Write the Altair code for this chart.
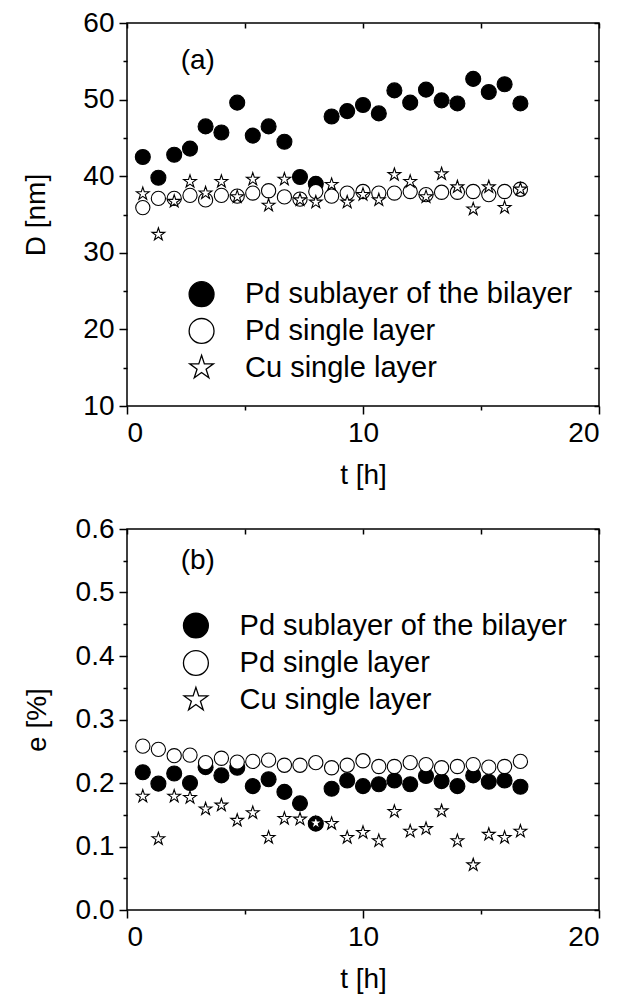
import altair as alt
import pandas as pd

FONT = "Liberation Sans"

t_hours = [0.67, 1.33, 2.0, 2.67, 3.33, 4.0, 4.67, 5.33, 6.0, 6.67, 7.33, 8.0, 8.67,
           9.33, 10.0, 10.67, 11.33, 12.0, 12.67, 13.33, 14.0, 14.67, 15.33, 16.0, 16.67]

series_names = ["Pd sublayer of the bilayer", "Pd single layer", "Cu single layer"]

# Panel (a): D [nm]
D_pd_bilayer = [42.5, 39.8, 42.8, 43.6, 46.5, 45.7, 49.6, 45.3, 46.5, 44.5, 39.9, 39.0, 47.8,
                48.5, 49.3, 48.2, 51.2, 49.6, 51.3, 49.9, 49.5, 52.7, 51.0, 52.0, 49.5]
D_pd_single = [35.9, 37.1, 37.1, 37.5, 36.9, 37.5, 37.4, 37.8, 38.1, 37.3, 37.0, 38.0, 37.4,
               37.8, 38.0, 37.8, 37.8, 38.0, 37.6, 37.9, 37.9, 38.0, 37.6, 38.0, 38.3]
D_cu_single = [37.7, 32.4, 36.7, 39.3, 37.8, 39.3, 37.3, 39.6, 36.2, 39.6, 36.9, 36.6, 38.9,
               36.6, 37.6, 36.9, 40.2, 39.3, 37.3, 40.3, 38.6, 35.7, 38.6, 35.9, 38.3]

# Panel (b): e [%]
e_pd_bilayer = [0.217, 0.199, 0.215, 0.200, 0.225, 0.212, 0.224, 0.195, 0.206, 0.186, 0.168, 0.136, 0.191,
                0.204, 0.195, 0.198, 0.204, 0.198, 0.211, 0.203, 0.195, 0.212, 0.202, 0.204, 0.194]
e_pd_single = [0.258, 0.253, 0.243, 0.244, 0.232, 0.239, 0.233, 0.234, 0.236, 0.228, 0.228, 0.232, 0.224,
               0.228, 0.235, 0.226, 0.226, 0.232, 0.229, 0.224, 0.226, 0.229, 0.225, 0.226, 0.234]
e_cu_single = [0.179, 0.112, 0.179, 0.177, 0.159, 0.165, 0.141, 0.153, 0.114, 0.144, 0.143, 0.137, 0.136,
               0.114, 0.122, 0.109, 0.155, 0.124, 0.128, 0.156, 0.109, 0.071, 0.119, 0.114, 0.124]

panel_labels = ["(a)", "(b)"]
label_t = [3, 3]
label_y = [55, 0.55]

# in-plot legend placement (data coordinates of each panel)
legend_sym_t = [3.16, 2.92]
legend_txt_t = [5.0, 4.77]
legend_rows_D = [24.6, 19.8, 15.0]
legend_rows_e = [0.448, 0.389, 0.331]

x_major = [0, 10, 20]
x_minor = [5, 15]
x_all = [0, 5, 10, 15, 20]
D_major = [10, 20, 30, 40, 50, 60]
D_minor = [15, 25, 35, 45, 55]
e_major = [0.0, 0.1, 0.2, 0.3, 0.4, 0.5, 0.6]
e_minor = [0.05, 0.15, 0.25, 0.35, 0.45, 0.55]

# five-pointed open star (custom symbol path in the unit square)
STAR = ("M0,-1L0.2245,-0.309L0.9511,-0.309L0.3633,0.118L0.5878,0.809L0,0.382"
        "L-0.5878,0.809L-0.3633,0.118L-0.9511,-0.309L-0.2245,-0.309Z")


def long_frame(col, a, b, c):
    rows = []
    for name, vals in zip(series_names, [a, b, c]):
        for tt, v in zip(t_hours, vals):
            rows.append({"t": tt, col: v, "series": name})
    return pd.DataFrame(rows)


def panel(df, col, domain, ymajor, yminor, ytitle, yfmt, idx, legend_rows, title_pad):
    xscale = alt.Scale(domain=[0, 20], nice=False, zero=False)
    yscale = alt.Scale(domain=domain, nice=False, zero=False)
    shape_scale = alt.Scale(domain=series_names, range=["circle", "circle", STAR])
    fill_scale = alt.Scale(domain=series_names, range=["black", "white", "white"])

    points = alt.Chart(df).mark_point(filled=False, stroke="black", strokeWidth=1.1, opacity=1).encode(
        x=alt.X("t:Q", scale=xscale, axis=alt.Axis(
            orient="bottom", values=x_major, title="t [h]", format="d",
            tickSize=8, labelPadding=5, titlePadding=14, domain=False)),
        y=alt.Y(f"{col}:Q", scale=yscale, axis=alt.Axis(
            orient="left", values=ymajor, title=ytitle, format=yfmt,
            tickSize=8, labelPadding=5, titlePadding=title_pad, domain=False)),
        shape=alt.Shape("series:N", scale=shape_scale, legend=None),
        fill=alt.Fill("series:N", scale=fill_scale, legend=None),
        size=alt.Size("series:N", scale=alt.Scale(domain=series_names, range=[225, 180, 260]), legend=None),
    )
    minor = alt.Chart(df).mark_point(opacity=0).encode(
        x=alt.X("t:Q", scale=xscale, axis=alt.Axis(
            orient="bottom", values=x_minor, labels=False, title=None, domain=False, tickSize=4)),
        y=alt.Y(f"{col}:Q", scale=yscale, axis=alt.Axis(
            orient="left", values=yminor, labels=False, title=None, domain=False, tickSize=4)),
    )
    mirror = alt.Chart(df).mark_point(opacity=0).encode(
        x=alt.X("t:Q", scale=xscale, axis=alt.Axis(
            orient="top", values=x_all, labels=False, title=None, domain=False,
            offset=-5, tickSize=5)),
        y=alt.Y(f"{col}:Q", scale=yscale, axis=alt.Axis(
            orient="right", values=ymajor + yminor, labels=False, title=None, domain=False,
            offset=-5, tickSize=5)),
    )
    lab_df = pd.DataFrame({"t": [label_t[idx]], col: [label_y[idx]], "txt": [panel_labels[idx]]})
    lab = alt.Chart(lab_df).mark_text(
        font=FONT, fontSize=28, color="black", align="center", baseline="middle"
    ).encode(x=alt.X("t:Q", scale=xscale, axis=None),
             y=alt.Y(f"{col}:Q", scale=yscale, axis=None), text="txt:N")

    leg_df = pd.DataFrame({
        "ts": [legend_sym_t[idx]] * 3, "tt": [legend_txt_t[idx]] * 3,
        col: legend_rows, "series": series_names,
    })
    leg_sym = alt.Chart(leg_df).mark_point(
        filled=False, stroke="black", strokeWidth=1.3, opacity=1, size=620
    ).encode(
        x=alt.X("ts:Q", scale=xscale, axis=None),
        y=alt.Y(f"{col}:Q", scale=yscale, axis=None),
        shape=alt.Shape("series:N", scale=shape_scale, legend=None),
        fill=alt.Fill("series:N", scale=fill_scale, legend=None),
    )
    leg_txt = alt.Chart(leg_df).mark_text(
        font=FONT, fontSize=29, color="black", align="left", baseline="middle"
    ).encode(x=alt.X("tt:Q", scale=xscale, axis=None),
             y=alt.Y(f"{col}:Q", scale=yscale, axis=None), text="series:N")

    return alt.layer(points, lab, leg_sym, leg_txt, minor, mirror).resolve_axis(
        x="independent", y="independent")


df_a = long_frame("D", D_pd_bilayer, D_pd_single, D_cu_single)
df_b = long_frame("e", e_pd_bilayer, e_pd_single, e_cu_single)

top = panel(df_a, "D", [10, 60], D_major, D_minor, "D [nm]", "d", 0, legend_rows_D, 32
            ).properties(width=472, height=383)
bottom = panel(df_b, "e", [0, 0.6], e_major, e_minor, "e [%]", ".1f", 1, legend_rows_e, 24
               ).properties(width=472, height=381)

chart = alt.vconcat(top, bottom, spacing=24).resolve_scale(
    x="independent", y="independent", shape="independent", fill="independent", size="independent"
).configure_view(
    stroke="black", strokeWidth=1.5
).configure_axis(
    labelFont=FONT, labelFontSize=28, labelColor="black", titleFont=FONT, titleFontSize=28,
    titleFontWeight="normal", titleColor="black", tickColor="black", tickWidth=1.5, grid=False
).properties(
    background="white", padding={"left": 22, "top": 8, "right": 4, "bottom": 4}
)

chart.save("out.html", embed_options={"renderer": "svg", "actions": False})
